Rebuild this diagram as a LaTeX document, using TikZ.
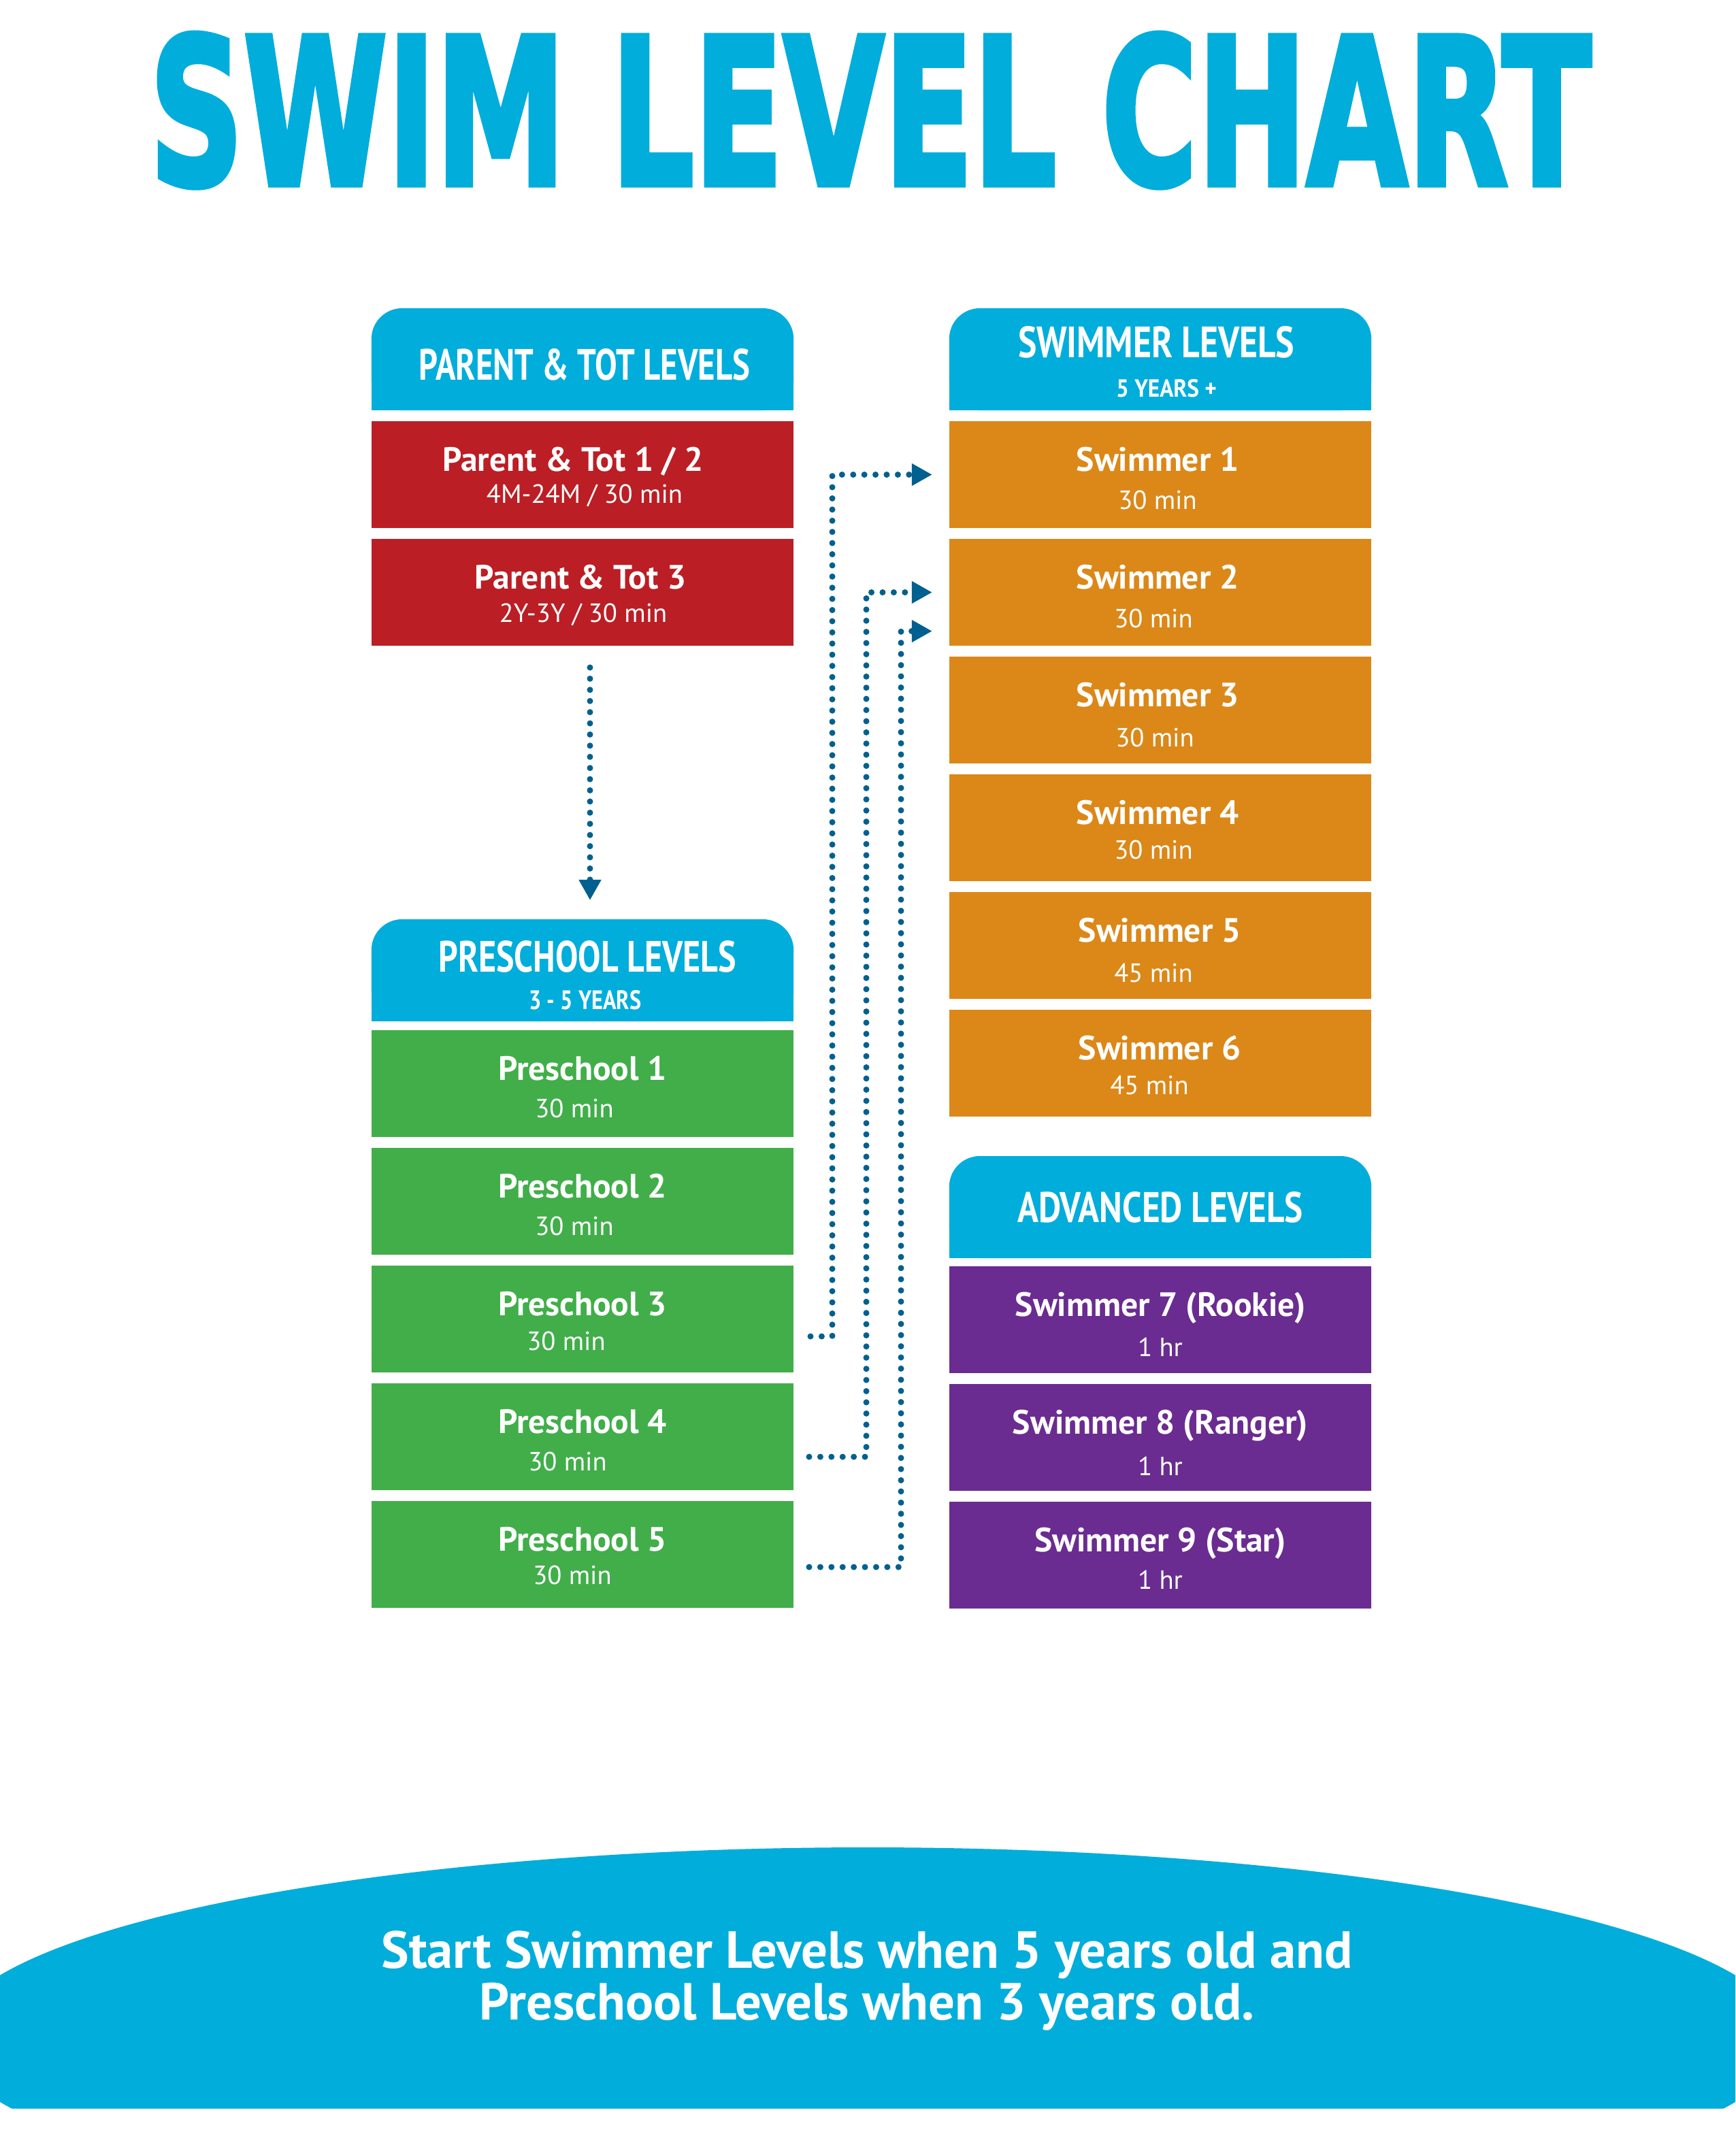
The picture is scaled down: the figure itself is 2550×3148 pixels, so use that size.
\documentclass[tikz,border=0pt]{standalone}
\usepackage{fontspec}
\usetikzlibrary{arrows.meta,calc}
\setmainfont{PT Sans}
\newfontfamily\titlefont{DejaVu Sans}[BoldFeatures={FakeBold=3}]
\newlength\pxu \setlength\pxu{0.01cm}
\definecolor{hdr}{HTML}{00ADDB}
\definecolor{redb}{HTML}{BB1E24}
\definecolor{orab}{HTML}{DB8819}
\definecolor{grnb}{HTML}{41AE4A}
\definecolor{purb}{HTML}{6A2C90}
\definecolor{dotblue}{HTML}{00608F}
\tikzset{
  lvlbox/.style={minimum width=6.2cm, minimum height=1.57cm, inner sep=0pt, outer sep=0pt, draw=none},
  hdrbox/.style={minimum width=6.2cm, minimum height=1.5cm, inner sep=0pt, outer sep=0pt, draw=none},
  ttl/.style={text=white, font=\bfseries\fontsize{14.1}{16}\selectfont, inner sep=0pt, anchor=base},
  subt/.style={text=white, font=\fontsize{11}{13}\selectfont, inner sep=0pt, anchor=base},
  hdtxt/.style={text=white, inner sep=0pt, anchor=base},
  btxt/.style={text=white, font=\bfseries\fontsize{21.8}{25}\selectfont, inner sep=0pt, anchor=base},
  dotc/.style={draw=dotblue, line width=0.09cm, line cap=round, dash pattern=on 0pt off 0.164cm,
    -{Triangle[length=0.30cm,width=0.31cm]}, shorten >=0.25cm},
}
\newcommand\hdt[3]{\resizebox{#1\pxu}{#2\pxu}{\bfseries #3}}
% name, colour, cx, top, title, title dx, sub, sub centre dy, sub dx
\newcommand\lvl[9]{%
  \node[lvlbox, fill=#2, anchor=north] (#1) at (#3,#4) {};
  \node[ttl] (#1t) at ({#3+#6},{#4+73}) {#5};
  \node[subt] (#1s) at ({#3+#9},{#4+#8+14}) {#7};
}
\begin{document}
\begin{tikzpicture}[x=0.01cm, y=-0.01cm]
\fill[white] (0,0) rectangle (2550,3148);
\useasboundingbox (0,0) rectangle (2550,3148);

% title
\node[text=hdr, inner sep=0pt, anchor=base] (title) at (1279,271)
  {\resizebox{2118\pxu}{222\pxu}{\titlefont\bfseries SWIM LEVEL CHART}};

% header boxes
\node[hdrbox, anchor=north] (hpt) at (856,453) {};
\node[hdrbox, anchor=north] (hsw) at (1705,453) {};
\node[hdrbox, anchor=north] (hps) at (856,1351) {};
\node[hdrbox, anchor=north] (had) at (1705,1699) {};
\foreach \n in {hpt,hsw,hps,had} {
  \fill[hdr, rounded corners=0.45cm] (\n.south west) rectangle (\n.north east);
  \fill[hdr] (\n.west) rectangle (\n.south east);
}
\node[hdtxt] (hptt) at (859,558) {\hdt{486}{46}{PARENT \& TOT LEVELS}};
\node[hdtxt] (hswt) at (1699,525) {\hdt{406}{46}{SWIMMER LEVELS}};
\node[hdtxt] (hsws) at (1714,583) {\hdt{148}{26}{5 YEARS +}};
\node[hdtxt] (hpst) at (863,1428) {\hdt{437}{46}{PRESCHOOL LEVELS}};
\node[hdtxt] (hpss) at (860,1483) {\hdt{165}{28}{3 - 5 YEARS}};
\node[hdtxt] (hadt) at (1705,1796) {\hdt{419}{45}{ADVANCED LEVELS}};

% level boxes
\lvl{pt1}{redb}{856}{619}{Parent \& Tot 1 / 2}{-14}{4M-24M / 30 min}{106}{3}
\lvl{pt3}{redb}{856}{792}{Parent \& Tot 3}{-3}{2Y-3Y / 30 min}{108}{1}
\lvl{pre1}{grnb}{856}{1514}{Preschool 1}{0}{30 min}{114}{-12}
\lvl{pre2}{grnb}{856}{1687}{Preschool 2}{0}{30 min}{114}{-12}
\lvl{pre3}{grnb}{856}{1860}{Preschool 3}{0}{30 min}{110}{-24}
\lvl{pre4}{grnb}{856}{2033}{Preschool 4}{0}{30 min}{114}{-22}
\lvl{pre5}{grnb}{856}{2206}{Preschool 5}{0}{30 min}{108}{-15}
\lvl{sw1}{orab}{1705}{619}{Swimmer 1}{-4}{30 min}{115}{-4}
\lvl{sw2}{orab}{1705}{792}{Swimmer 2}{-4}{30 min}{116}{-10}
\lvl{sw3}{orab}{1705}{965}{Swimmer 3}{-4}{30 min}{118}{-8}
\lvl{sw4}{orab}{1705}{1138}{Swimmer 4}{-4}{30 min}{110}{-10}
\lvl{sw5}{orab}{1705}{1311}{Swimmer 5}{-1}{45 min}{118}{-10}
\lvl{sw6}{orab}{1705}{1484}{Swimmer 6}{-1}{45 min}{110}{-16}
\lvl{sw7}{purb}{1705}{1861}{Swimmer 7 (Rookie)}{0}{1 hr}{118}{0}
\lvl{sw8}{purb}{1705}{2034}{Swimmer 8 (Ranger)}{0}{1 hr}{120}{0}
\lvl{sw9}{purb}{1705}{2207}{Swimmer 9 (Star)}{0}{1 hr}{114}{0}

% connectors
\coordinate (v1) at (867,981);
\draw[dotc, shorten >=0.28cm] (v1) -- (v1 |- hps.north);
\coordinate (c1) at (1191,1964);
\coordinate (c2) at (1189,2141);
\coordinate (c3) at (1189,2303);
\draw[dotc] (c1) -- ++(32,0) |- (sw1.west);
\draw[dotc] (c2) -- ++(84,0) |- (sw2.west);
\draw[dotc] (c3) -- ++(135,0) |- ($(sw2.west)+(0,57)$);

% bottom banner
\begin{scope}
  \clip (0,0) rectangle (2550,3098);
  \fill[hdr] (1275,2996) ellipse [x radius=1351, y radius=281];
\end{scope}
\node[btxt] (bt1) at (1274,2892) {Start Swimmer Levels when 5 years old and};
\node[btxt] (bt2) at (1274,2968) {Preschool Levels when 3 years old.};
\end{tikzpicture}
\end{document}
